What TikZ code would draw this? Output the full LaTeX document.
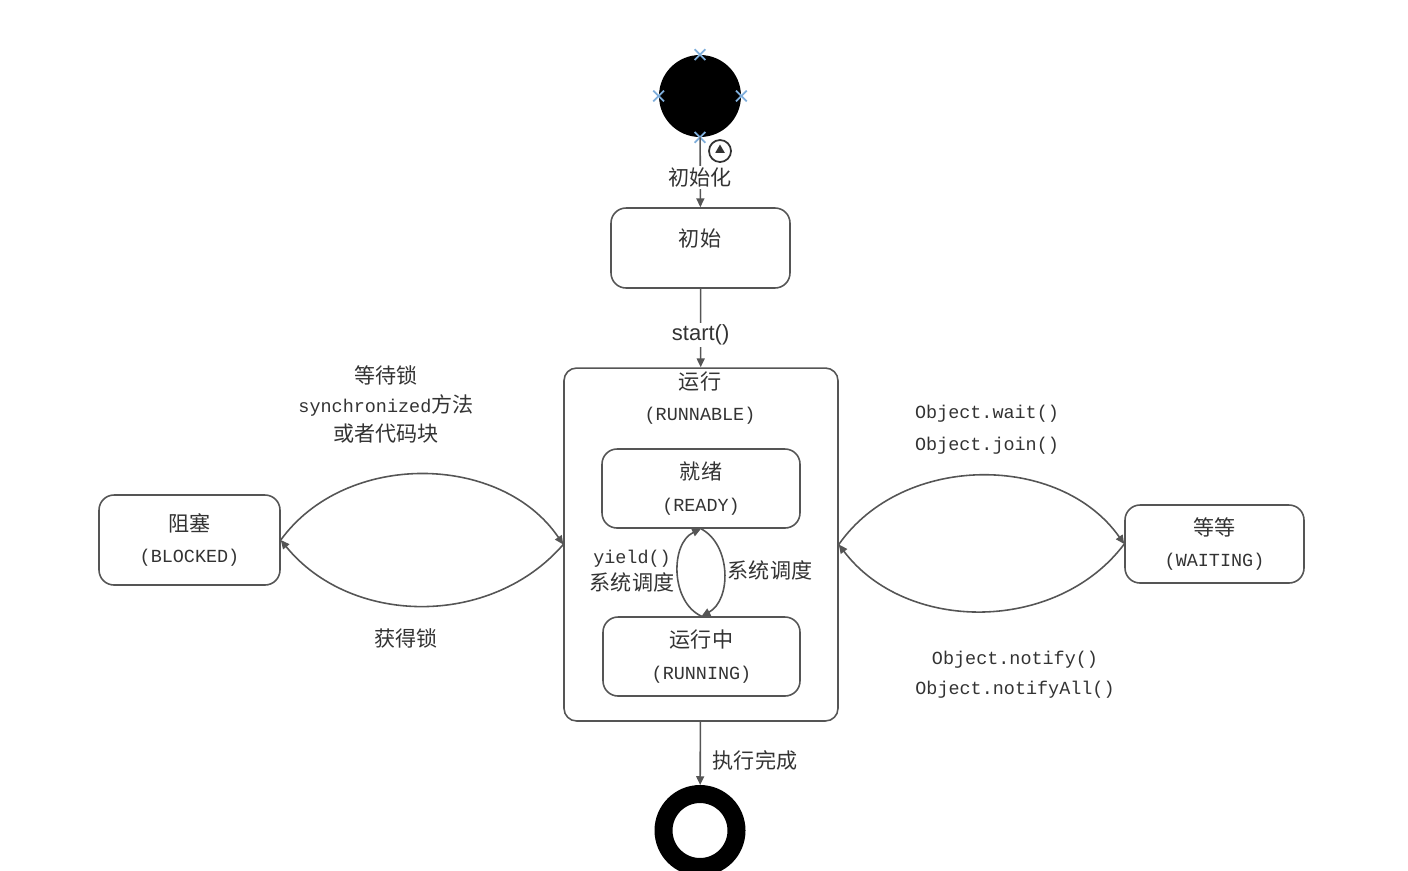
\documentclass[tikz,border=0pt]{standalone}
\usepackage{fontspec}
\setmainfont{Liberation Mono}
\newfontfamily\cjk{Noto Sans CJK SC}
\newfontfamily\lsans{Liberation Sans}
\newcommand{\zhtxt}[1]{{\cjk\fontsize{12}{18}\selectfont #1}}
\usetikzlibrary{arrows.meta,shapes.geometric,shapes.misc}
\definecolor{linegray}{HTML}{555555}
\definecolor{textgray}{HTML}{333333}
\definecolor{handleblue}{HTML}{7FAEDB}

\begin{document}
\begin{tikzpicture}[x=0.02cm, y=0.02cm,
  state/.style={draw=linegray, line width=0.9pt, rounded corners=0.3cm,
    align=center, text=textgray, font=\fontsize{10.5}{18}\selectfont},
  txt/.style={text=textgray, align=center, inner sep=1pt,
    font=\fontsize{10.5}{18}\selectfont},
  flow/.style={draw=linegray, line width=0.9pt,
    -{Triangle[length=5pt,width=4.5pt]}},
  handle/.style={cross out, draw=handleblue, line width=1pt,
    minimum size=0.18cm, inner sep=0pt}]
  \useasboundingbox (0,0) rectangle (1408,-870);

  % start and end
  \node[circle, fill=black, minimum size=1.64cm, inner sep=0pt] (start) at (700,-96) {};
  \foreach \a in {north,south,east,west}
    \node[handle] (h-\a) at (start.\a) {};
  \node[circle, draw=textgray, line width=1pt, minimum size=0.44cm, inner sep=0pt] (icon) at (720,-151) {};
  \node[regular polygon, regular polygon sides=3, fill=textgray, minimum size=0.22cm, inner sep=0pt] (icontri) at (720,-150) {};
  \node[circle, draw=black, line width=0.36cm, minimum size=1.46cm, inner sep=0pt] (finish) at (700,-830.5) {};

  % states
  \node[state, minimum width=3.58cm, minimum height=1.6cm] (init) at (700.5,-248) {};
  \node[txt] (initlbl) at (700,-238) {\zhtxt{初始}};
  \node[state, minimum width=5.48cm, minimum height=7.06cm, rounded corners=0.25cm] (runnable) at (701,-544.5) {};
  \node[txt] (runlbl) at (700,-398) {\zhtxt{运行}\\(RUNNABLE)};
  \node[state, minimum width=3.96cm, minimum height=1.58cm] (ready) at (701,-488.5) {\zhtxt{就绪}\\(READY)};
  \node[state, minimum width=3.94cm, minimum height=1.58cm] (running) at (701.5,-656.5) {\zhtxt{运行中}\\(RUNNING)};
  \node[state, minimum width=3.62cm, minimum height=1.8cm] (blocked) at (189.5,-540) {\zhtxt{阻塞}\\(BLOCKED)};
  \node[state, minimum width=3.58cm, minimum height=1.56cm] (waiting) at (1214.5,-544) {\zhtxt{等等}\\(WAITING)};

  % transitions
  \draw[flow] (start) -- node[txt, fill=white, pos=0.58] (initarr) {\zhtxt{初始化}} (init);
  \draw[flow] (init) -- node[txt, fill=white, pos=0.59, font=\lsans\fontsize{12.5}{15}\selectfont] (startarr) {start()} (runnable);
  \draw[flow] (runnable) -- (finish);
  \node[txt] (donelbl) at (755,-760) {\zhtxt{执行完成}};

  \draw[flow] (running.north) to[bend left=65] (ready.south);
  \draw[flow] (ready.south) to[bend left=62] (running.north);
  \node[txt, font=\fontsize{10.5}{15}\selectfont] (yieldlbl) at (632,-571) {yield()\\\zhtxt{系统调度}};
  \node[txt] (schedlbl) at (770,-570) {\zhtxt{系统调度}};

  \draw[flow] (blocked.east) to[bend left=55] (runnable.west);
  \draw[flow] (runnable.west) to[bend left=50] (blocked.east);
  \node[txt, font=\fontsize{10.5}{16.5}\selectfont] (locklbl) at (386,-404) {\zhtxt{等待锁}\\synchronized\zhtxt{方法}\\\zhtxt{或者代码块}};
  \node[txt] (getlbl) at (406,-638) {\zhtxt{获得锁}};

  \draw[flow] (runnable.east) to[bend left=55] (waiting.west);
  \draw[flow] (waiting.west) to[bend left=53] (runnable.east);
  \node[txt, align=left] (waitlbl) at (987,-430) {Object.wait()\\Object.join()};
  \node[txt, font=\fontsize{10.5}{17}\selectfont] (notifylbl) at (1015,-675) {Object.notify()\\Object.notifyAll()};
\end{tikzpicture}
\end{document}
